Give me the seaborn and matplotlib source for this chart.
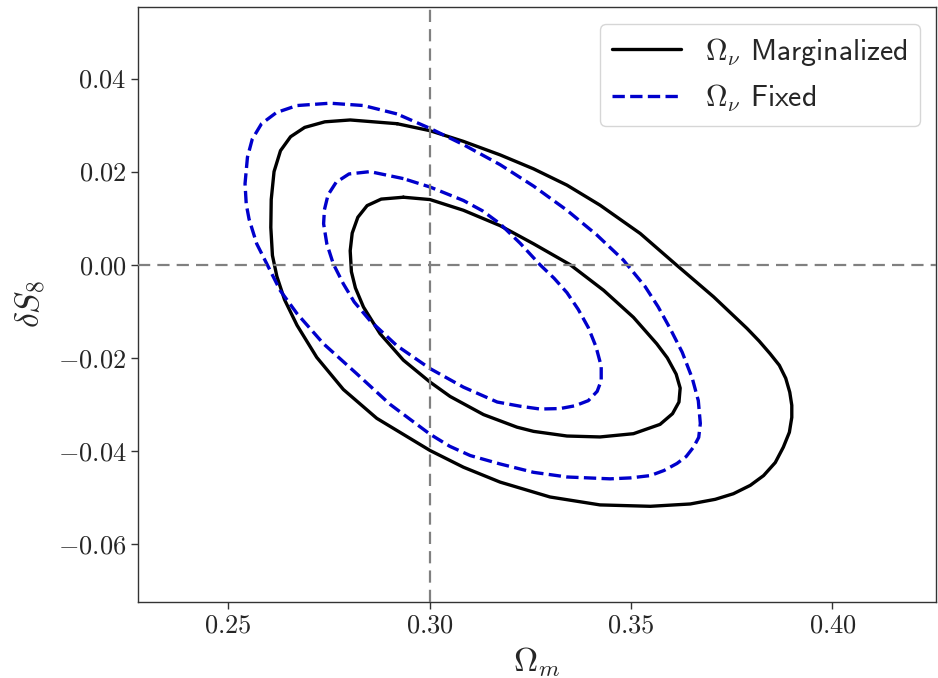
import numpy as np
import pandas as pd
import matplotlib
matplotlib.use("Agg")
import matplotlib.pyplot as plt
import seaborn as sns

# ---- traced contour points (Omega_m, delta S8) ----
marg_2s_x = [0.2919, 0.2803, 0.2740, 0.2690, 0.2655, 0.2630, 0.2614, 0.2607, 0.2606, 0.2610,
             0.2621, 0.2640, 0.2671, 0.2720, 0.2786, 0.2869, 0.3001, 0.3084, 0.3175, 0.3299,
             0.3423, 0.3548, 0.3647, 0.3709, 0.3754, 0.3796, 0.3829, 0.3858, 0.3878, 0.3893,
             0.3899, 0.3899, 0.3894, 0.3884, 0.3868, 0.3845, 0.3818, 0.3788, 0.3705, 0.3612,
             0.3523, 0.3423, 0.3341, 0.3258, 0.3175, 0.3084, 0.3001]
marg_2s_y = [0.0303, 0.0311, 0.0307, 0.0295, 0.0275, 0.0245, 0.0200, 0.0140, 0.0080, 0.0020,
             -0.0025, -0.0075, -0.0130, -0.0199, -0.0268, -0.0330, -0.0399, -0.0435, -0.0467, -0.0499,
             -0.0516, -0.0519, -0.0514, -0.0504, -0.0492, -0.0474, -0.0453, -0.0425, -0.0392, -0.0360,
             -0.0328, -0.0302, -0.0274, -0.0244, -0.0216, -0.0191, -0.0164, -0.0137, -0.0069, 0.0000,
             0.0067, 0.0128, 0.0171, 0.0206, 0.0236, 0.0265, 0.0288]

marg_1s_x = [0.2935, 0.2880, 0.2845, 0.2822, 0.2808, 0.2803, 0.2806, 0.2816, 0.2836, 0.2877,
             0.2935, 0.3001, 0.3051, 0.3134, 0.3217, 0.3258, 0.3341, 0.3423, 0.3506, 0.3572,
             0.3603, 0.3619, 0.3622, 0.3612, 0.3590, 0.3564, 0.3506, 0.3432, 0.3349, 0.3258,
             0.3175, 0.3084, 0.3001]
marg_1s_y = [0.0145, 0.0141, 0.0127, 0.0102, 0.0068, 0.0030, -0.0015, -0.0050, -0.0091, -0.0148,
             -0.0205, -0.0252, -0.0283, -0.0322, -0.0349, -0.0358, -0.0368, -0.0370, -0.0363, -0.0343,
             -0.0320, -0.0295, -0.0265, -0.0235, -0.0200, -0.0170, -0.0113, -0.0055, 0.0000, 0.0045,
             0.0084, 0.0117, 0.0140]

fixed_2s_x = [0.2919, 0.2836, 0.2753, 0.2671, 0.2620, 0.2583, 0.2560, 0.2548, 0.2542, 0.2545,
              0.2552, 0.2571, 0.2596, 0.2629, 0.2671, 0.2737, 0.2819, 0.2902, 0.3001, 0.3050,
              0.3101, 0.3175, 0.3258, 0.3341, 0.3448, 0.3498, 0.3548, 0.3582, 0.3614, 0.3637,
              0.3655, 0.3668, 0.3672, 0.3667, 0.3652, 0.3627, 0.3597, 0.3567, 0.3535, 0.3481,
              0.3415, 0.3341, 0.3258, 0.3175, 0.3084, 0.3001]
fixed_2s_y = [0.0324, 0.0342, 0.0347, 0.0342, 0.0327, 0.0303, 0.0270, 0.0231, 0.0174, 0.0130,
              0.0098, 0.0045, 0.0002, -0.0055, -0.0105, -0.0170, -0.0234, -0.0300, -0.0364, -0.0390,
              -0.0410, -0.0428, -0.0446, -0.0456, -0.0460, -0.0458, -0.0453, -0.0442, -0.0427, -0.0412,
              -0.0392, -0.0371, -0.0341, -0.0292, -0.0244, -0.0188, -0.0137, -0.0090, -0.0047, 0.0010,
              0.0064, 0.0117, 0.0169, 0.0215, 0.0258, 0.0293]

fixed_1s_x = [0.2935, 0.2852, 0.2800, 0.2768, 0.2748, 0.2739, 0.2737, 0.2745, 0.2761, 0.2786,
              0.2813, 0.2852, 0.2919, 0.3001, 0.3084, 0.3168, 0.3225, 0.3274, 0.3324, 0.3361,
              0.3394, 0.3416, 0.3426, 0.3426, 0.3413, 0.3394, 0.3369, 0.3341, 0.3309, 0.3274,
              0.3225, 0.3175, 0.3131, 0.3084, 0.3001]
fixed_1s_y = [0.0185, 0.0200, 0.0195, 0.0177, 0.0150, 0.0118, 0.0088, 0.0045, 0.0002, -0.0041,
              -0.0080, -0.0120, -0.0174, -0.0223, -0.0263, -0.0295, -0.0304, -0.0310, -0.0309, -0.0303,
              -0.0292, -0.0272, -0.0249, -0.0218, -0.0176, -0.0135, -0.0096, -0.0060, -0.0029, 0.0000,
              0.0046, 0.0088, 0.0116, 0.0138, 0.0167]

fiducial_om = 0.30
fiducial_ds8 = 0.0
series_labels = [r"$\Omega_\nu$ Marginalized", r"$\Omega_\nu$ Fixed"]
x_ticks = [0.25, 0.30, 0.35, 0.40]
y_ticks = [-0.06, -0.04, -0.02, 0.00, 0.02, 0.04]

sns.set_style("ticks")
plt.rcParams["font.family"] = ["cmr10"]
plt.rcParams["mathtext.fontset"] = "cm"
plt.rcParams["axes.formatter.use_mathtext"] = True
plt.rcParams["axes.unicode_minus"] = True

fig = plt.figure(figsize=(9.38, 6.78), dpi=100)
ax = fig.add_axes([0.1474, 0.1125, 0.8505, 0.8767])


def closed(xs, ys):
    return pd.DataFrame({"x": list(xs) + [xs[0]], "y": list(ys) + [ys[0]]})


lw = 2.4
blue = "#0000CC"
common = dict(x="x", y="y", sort=False, estimator=None, lw=lw, ax=ax,
              solid_joinstyle="round", dash_joinstyle="round")
sns.lineplot(data=closed(marg_2s_x, marg_2s_y), color="black", label=series_labels[0], **common)
sns.lineplot(data=closed(marg_1s_x, marg_1s_y), color="black", label="_nolegend_", **common)
sns.lineplot(data=closed(fixed_2s_x, fixed_2s_y), color=blue, linestyle="--",
             label=series_labels[1], **common)
sns.lineplot(data=closed(fixed_1s_x, fixed_1s_y), color=blue, linestyle="--",
             label="_nolegend_", **common)

ax.axvline(fiducial_om, color="gray", lw=1.6, linestyle=(0, (5.5, 3.2)), zorder=3)
ax.axhline(fiducial_ds8, color="gray", lw=1.6, linestyle=(0, (5.5, 3.2)), zorder=3)

ax.set_xlim(0.2277, 0.4257)
ax.set_ylim(-0.0724, 0.0553)
ax.set_xticks(x_ticks)
ax.set_yticks(y_ticks)
ax.tick_params(labelsize=19, length=5, width=1, color="#333333")
for s in ax.spines.values():
    s.set_color("#333333")
    s.set_linewidth(1.0)

ax.set_xlabel(r"$\Omega_m$", fontsize=24, labelpad=6)
ax.set_ylabel(r"$\delta S_8$", fontsize=24, labelpad=8)

ax.legend(loc="upper right", prop={"family": "cmss10", "size": 21.5},
          handlelength=2.3, borderaxespad=0.55, frameon=True)

fig.savefig("out.png", dpi=100)
